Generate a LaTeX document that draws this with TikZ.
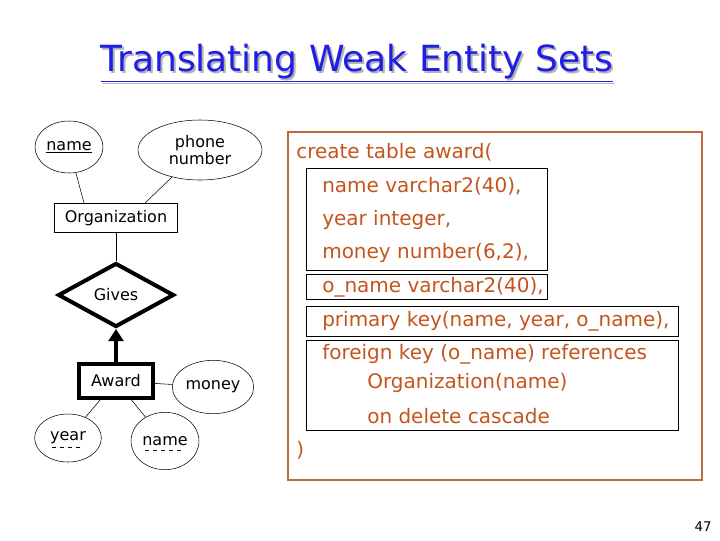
\documentclass[tikz,border=0pt]{standalone}
\usepackage{fontspec}
\setmainfont{DejaVu Sans}
\usetikzlibrary{shapes.geometric,arrows.meta}
\definecolor{codeorange}{RGB}{196,84,28}
\definecolor{frameorange}{RGB}{190,105,65}
\definecolor{titleblue}{RGB}{30,30,230}
\tikzset{
  attr/.style={draw, ellipse, inner sep=1pt, font=\fontsize{12}{13}\selectfont},
  entity/.style={draw, rectangle, font=\fontsize{12}{13}\selectfont},
  code/.style={anchor=west, text=codeorange, font=\fontsize{15}{16}\selectfont, inner sep=0pt},
  codebox/.style={draw, line width=0.6pt}
}
\begin{document}
\begin{tikzpicture}[x=0.75pt, y=-0.75pt]
\useasboundingbox (0,0) rectangle (720,540);

% title
\node[text=gray!60, font=\fontsize{27}{29}\selectfont] at (359,65) {\underline{Translating Weak Entity Sets}};
\node (title) [text=titleblue, font=\fontsize{27}{29}\selectfont] at (357,63) {\underline{Translating Weak Entity Sets}};

% E/R diagram
\node (org) [entity, minimum width=92pt, minimum height=22pt] at (116,218) {Organization};
\node (oname) [attr, minimum width=50pt, minimum height=39pt] at (69,147) {\underline{name}};
\node (phone) [attr, minimum width=93pt, minimum height=45pt, align=center] at (200,150) {phone\\number};
\node (gives) [draw, diamond, aspect=1.8, line width=3pt, inner sep=2pt, minimum width=87pt, minimum height=48pt, font=\fontsize{12}{13}\selectfont] at (116,295) {Gives};
\node (award) [entity, line width=3pt, minimum width=55pt, minimum height=25pt] at (116,381) {Award};
\node (money) [attr, minimum width=50pt, minimum height=40pt] at (213,387) {money};
\node (year) [attr, minimum width=50pt, minimum height=36pt] at (68,438) {year};
\node (aname) [attr, minimum width=50pt, minimum height=43pt] at (165,441) {name};
\draw[dashed] ([shift={(-12pt,-7pt)}]year.center) -- ++(24pt,0);
\draw[dashed] ([shift={(-15pt,-7pt)}]aname.center) -- ++(30pt,0);

\draw (oname) -- (org.north -| 84,0);
\draw (phone) -- (org.north -| 145,0);
\draw (org) -- (gives);
\draw[line width=3.5pt, -{Triangle[length=9pt,width=11pt]}] (award) -- (gives);
\draw (award) -- (money);
\draw (award) -- (year);
\draw (award) -- (aname);

% SQL
\draw[frameorange, line width=1.5pt] (288,132) rectangle (702,480);
\draw[codebox] (306,168) rectangle (547,270);
\draw[codebox] (306,274) rectangle (547,299);
\draw[codebox] (306,306) rectangle (678,336);
\draw[codebox] (306,340) rectangle (678,430);
\node (l1) [code] at (296,152) {create table award(};
\node (l2) [code] at (322,186) {name varchar2(40),};
\node (l3) [code] at (322,220) {year integer,};
\node (l4) [code] at (322,253) {money number(6,2),};
\node (l5) [code] at (322,287) {o\_name varchar2(40),};
\node (l6) [code] at (322,321) {primary key(name, year, o\_name),};
\node (l7) [code] at (322,354) {foreign key (o\_name) references};
\node (l8) [code] at (367,383) {Organization(name)};
\node (l9) [code] at (367,416) {on delete cascade};
\node (l10) [code] at (296,450) {)};

\node (page) [font=\fontsize{10}{11}\selectfont] at (703,527) {47};
\end{tikzpicture}
\end{document}
